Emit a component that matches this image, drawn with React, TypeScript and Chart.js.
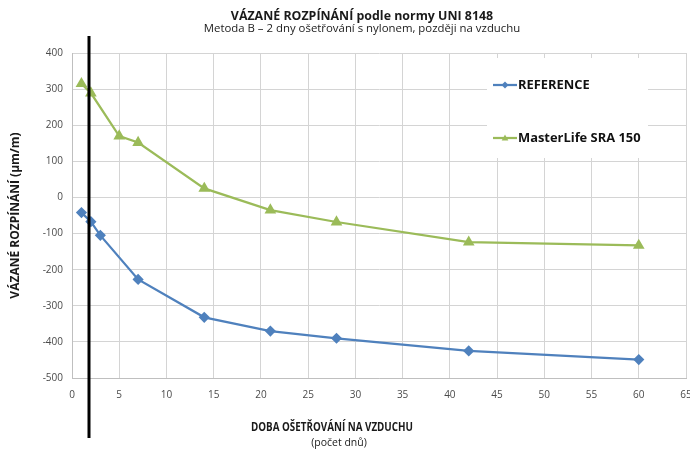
import React, { useEffect, useRef } from "react";
import { Chart, registerables } from "chart.js";

Chart.register(...registerables);

const referenceDays = [1, 2, 3, 7, 14, 21, 28, 42, 60];
const referenceValues = [-42, -67, -105, -227, -332, -370, -390, -425, -449];
const sraDays = [1, 2, 5, 7, 14, 21, 28, 42, 60];
const sraValues = [315, 289, 170, 152, 25, -35, -68, -124, -133];
const seriesNames = ["REFERENCE", "MasterLife SRA 150"];
const seriesColors = ["#4F81BD", "#9BBB59"];
const xTickMin = 0;
const xTickMax = 65;
const xTickStep = 5;
const yTickMin = -500;
const yTickMax = 400;
const yTickStep = 100;
const nylonEndDay = 1.8;
const titleText = "VÁZANÉ ROZPÍNÁNÍ podle normy UNI 8148";
const subtitleText = "Metoda B – 2 dny ošetřování s nylonem, později na vzduchu";
const yAxisTitle = "VÁZANÉ ROZPÍNÁNÍ (µm/m)";
const xAxisTitle = "DOBA OŠETŘOVÁNÍ NA VZDUCHU";
const xAxisSubtitle = "(počet dnů)";

const FONT = "'Open Sans', 'Noto Sans', sans-serif";

function drawMarker(ctx: CanvasRenderingContext2D, style: string, x: number, y: number, r: number, color: string) {
  ctx.save();
  ctx.fillStyle = color;
  ctx.beginPath();
  if (style === "rectRot") {
    ctx.moveTo(x, y - r);
    ctx.lineTo(x + r, y);
    ctx.lineTo(x, y + r);
    ctx.lineTo(x - r, y);
  } else {
    ctx.moveTo(x, y - r);
    ctx.lineTo(x + r * 0.95, y + r * 0.7);
    ctx.lineTo(x - r * 0.95, y + r * 0.7);
  }
  ctx.closePath();
  ctx.fill();
  ctx.restore();
}

function fitText(ctx: CanvasRenderingContext2D, text: string, cx: number, cy: number, maxWidth: number) {
  const w = ctx.measureText(text).width;
  const s = w > maxWidth ? maxWidth / w : 1;
  ctx.save();
  ctx.translate(cx, cy);
  ctx.scale(s, 1);
  ctx.fillText(text, 0, 0);
  ctx.restore();
}

const decorPlugin = {
  id: "decor",
  afterDraw(chart: any) {
    const { ctx, chartArea } = chart;
    const xs = chart.scales.x;
    ctx.save();
    ctx.fillStyle = "#1a1a1a";
    ctx.textAlign = "center";
    ctx.textBaseline = "middle";
    ctx.font = `bold 12.4px ${FONT}`;
    ctx.fillText(titleText, 362, 16);
    ctx.font = `11.4px ${FONT}`;
    ctx.fillText(subtitleText, 362, 29);
    ctx.font = `bold 11.5px ${FONT}`;
    fitText(ctx, xAxisTitle, chartArea.left + 260, 428, 162);
    ctx.font = `10.5px ${FONT}`;
    ctx.fillText(xAxisSubtitle, chartArea.left + 267, 443);
    ctx.save();
    ctx.translate(16, (chartArea.top + chartArea.bottom) / 2);
    ctx.rotate(-Math.PI / 2);
    ctx.font = `bold 12px ${FONT}`;
    ctx.fillText(yAxisTitle, 0, 0);
    ctx.restore();

    const lx = chartArea.right - 199;
    const ly = chartArea.top + 5;
    ctx.fillStyle = "#ffffff";
    ctx.fillRect(lx, ly, 161, 100);
    const entries = [
      { name: seriesNames[0], color: seriesColors[0], style: "rectRot", y: ly + 27 },
      { name: seriesNames[1], color: seriesColors[1], style: "triangle", y: ly + 80 },
    ];
    entries.forEach((e) => {
      ctx.strokeStyle = e.color;
      ctx.lineWidth = 2.25;
      ctx.beginPath();
      ctx.moveTo(lx + 6, e.y);
      ctx.lineTo(lx + 30, e.y);
      ctx.stroke();
      drawMarker(ctx, e.style, lx + 18, e.y, 3.5, e.color);
      ctx.fillStyle = "#111111";
      ctx.textAlign = "left";
      ctx.font = `bold 12.9px ${FONT}`;
      ctx.fillText(e.name, lx + 31, e.y);
    });

    const dx = xs.getPixelForValue(nylonEndDay);
    ctx.strokeStyle = "#000000";
    ctx.lineWidth = 3;
    ctx.beginPath();
    ctx.moveTo(dx, chartArea.top - 17);
    ctx.lineTo(dx, chartArea.bottom + 60);
    ctx.stroke();
    ctx.restore();
  },
};

export default function App() {
  const ref = useRef<HTMLCanvasElement | null>(null);
  useEffect(() => {
    if (!ref.current) return;
    const chart = new Chart(ref.current, {
      type: "scatter",
      data: {
        datasets: [
          {
            label: seriesNames[0],
            data: referenceDays.map((d, i) => ({ x: d, y: referenceValues[i] })),
            showLine: true,
            borderColor: seriesColors[0],
            backgroundColor: seriesColors[0],
            borderWidth: 2.25,
            pointStyle: "rectRot",
            pointRadius: 4,
            tension: 0,
          },
          {
            label: seriesNames[1],
            data: sraDays.map((d, i) => ({ x: d, y: sraValues[i] })),
            showLine: true,
            borderColor: seriesColors[1],
            backgroundColor: seriesColors[1],
            borderWidth: 2.25,
            pointStyle: "triangle",
            pointRadius: 4.5,
            tension: 0,
          },
        ],
      },
      options: {
        animation: false,
        responsive: false,
        devicePixelRatio: 1,
        layout: { autoPadding: false, padding: { left: 0, right: 4, top: 53, bottom: 0 } },
        plugins: { legend: { display: false }, tooltip: { enabled: false }, title: { display: false } },
        scales: {
          x: {
            type: "linear",
            min: xTickMin,
            max: xTickMax,
            ticks: { stepSize: xTickStep, padding: 11, color: "#4a4a4a", font: { family: FONT, size: 10 }, maxRotation: 0 },
            grid: { color: "#d4d4d4", drawTicks: false },
            border: { color: "#bfbfbf" },
            afterFit: (s: any) => { s.height = 71; s.paddingRight = 0; s.paddingLeft = 0; },
          },
          y: {
            type: "linear",
            min: yTickMin,
            max: yTickMax,
            ticks: { stepSize: yTickStep, padding: 9, color: "#4a4a4a", font: { family: FONT, size: 10 } },
            grid: { color: "#d4d4d4", drawTicks: false },
            border: { color: "#bfbfbf" },
            afterFit: (s: any) => { s.width = 72; s.paddingTop = 0; s.paddingBottom = 0; },
          },
        },
      },
      plugins: [decorPlugin],
    });
    return () => chart.destroy();
  }, []);
  return (
    <div style={{ position: "absolute", left: 0, top: 0, width: 690, height: 449, background: "#fff" }}>
      <canvas ref={ref} width={690} height={449} style={{ width: 690, height: 449 }} />
    </div>
  );
}
